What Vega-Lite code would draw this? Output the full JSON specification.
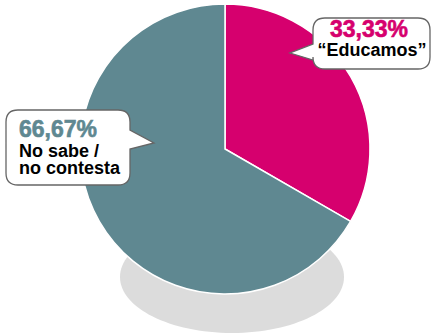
{
  "$schema": "https://vega.github.io/schema/vega-lite/v6.json",
  "autosize": {"type": "none"},
  "width": 420,
  "height": 298,
  "padding": {"left": 15, "top": 0, "right": 0, "bottom": 36},
  "background": "white",
  "config": {
    "view": {"stroke": null},
    "locale": {"number": {"decimal": ",", "thousands": ".", "grouping": [3], "currency": ["", " €"]}}
  },
  "data": {
    "values": [
      {"label": "Educamos", "text": "“Educamos”", "share": 0.3333, "ord": 1},
      {"label": "No sabe / no contesta", "text": "No sabe /\nno contesta", "share": 0.6667, "ord": 2}
    ]
  },
  "layer": [
    {
      "data": {"values": [{"item": "shadow"}]},
      "mark": {"type": "point", "shape": "M -105,128 A 112,56 0 1,0 119,128 A 112,56 0 1,0 -105,128 Z", "size": 4, "filled": true, "fill": "#dcdcdc", "strokeWidth": 0, "opacity": 1},
      "encoding": {}
    },
    {
      "mark": {"type": "arc", "outerRadius": 145, "stroke": "white", "strokeWidth": 1.5},
      "encoding": {
        "theta": {"field": "share", "type": "quantitative", "stack": true},
        "order": {"field": "ord", "type": "quantitative"},
        "color": {"field": "label", "type": "nominal", "scale": {"domain": ["Educamos", "No sabe / no contesta"], "range": ["#d6006e", "#5f8891"]}, "legend": null}
      }
    },
    {
      "mark": {"type": "point", "size": 4, "filled": true, "fill": "white", "stroke": "#666666", "strokeWidth": 1.3, "opacity": 1},
      "encoding": {
        "shape": {"field": "label", "type": "nominal", "scale": {"domain": ["Educamos", "No sabe / no contesta"], "range": [
          "M 100,-131 H 193 Q 205,-131 205,-119 V -92 Q 205,-80 193,-80 H 100 Q 88,-80 88,-92 V -89 L 65,-96 L 88,-105 V -119 Q 88,-131 100,-131 Z",
          "M -207,-39 H -107 Q -95,-39 -95,-27 V -19 L -71,-6 L -95,0 V 24 Q -95,36 -107,36 H -207 Q -219,36 -219,24 V -27 Q -219,-39 -207,-39 Z"
        ]}, "legend": null}
      }
    },
    {
      "transform": [{"filter": "datum.label === 'No sabe / no contesta'"}],
      "mark": {"type": "text", "font": "Liberation Sans", "fontWeight": "bold", "align": "left", "baseline": "alphabetic", "dx": -206, "dy": -12, "fontSize": 23, "stroke": "#5f8891", "strokeWidth": 0.6},
      "encoding": {
        "text": {"field": "share", "type": "quantitative", "format": ".2%"},
        "color": {"field": "label", "type": "nominal", "legend": null}
      }
    },
    {
      "transform": [{"filter": "datum.label === 'No sabe / no contesta'"}],
      "mark": {"type": "text", "font": "Liberation Sans", "fontWeight": "bold", "align": "left", "baseline": "alphabetic", "dx": -206, "dy": 8, "fontSize": 18, "lineHeight": 17, "lineBreak": "\n", "color": "black"},
      "encoding": {"text": {"field": "text", "type": "nominal"}}
    },
    {
      "transform": [{"filter": "datum.label === 'Educamos'"}],
      "mark": {"type": "text", "font": "Liberation Sans", "fontWeight": "bold", "align": "center", "baseline": "alphabetic", "dx": 144, "dy": -112, "fontSize": 23, "stroke": "#d6006e", "strokeWidth": 0.6},
      "encoding": {
        "text": {"field": "share", "type": "quantitative", "format": ".2%"},
        "color": {"field": "label", "type": "nominal", "legend": null}
      }
    },
    {
      "transform": [{"filter": "datum.label === 'Educamos'"}],
      "mark": {"type": "text", "font": "Liberation Sans", "fontWeight": "bold", "align": "center", "baseline": "alphabetic", "dx": 147, "dy": -93, "fontSize": 18, "color": "black"},
      "encoding": {"text": {"field": "text", "type": "nominal"}}
    }
  ]
}
